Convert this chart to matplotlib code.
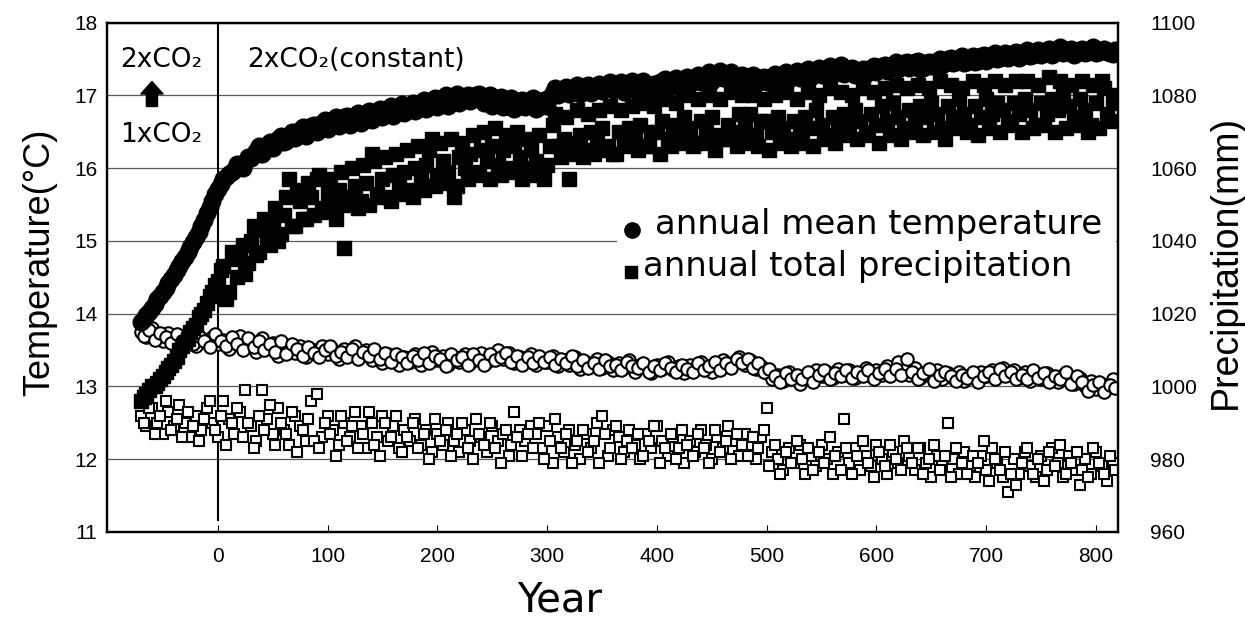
import numpy as np
import matplotlib.pyplot as plt
from matplotlib.patches import Rectangle

# model years: one value every 2.5 years, stored as two interleaved sets
years_a = np.arange(-70, 820, 5)      # -70, -65, ..., 815
years_b = years_a + 2.5               # -67.5, ..., 817.5

# annual mean temperature, 1xCO2 -> 2xCO2 run (degC)
temp_2x_a = [
    13.88, 13.98, 14.08, 14.20, 14.30, 14.42, 14.53, 14.66, 14.78, 14.92,
    15.05, 15.20, 15.38, 15.55, 15.72, 15.85, 15.92, 15.98, 16.02, 16.08,
    16.14, 16.24, 16.20, 16.32, 16.28, 16.40, 16.36, 16.46, 16.42, 16.52,
    16.44, 16.58, 16.50, 16.62, 16.54, 16.66, 16.58, 16.70, 16.60, 16.72,
    16.62, 16.74, 16.66, 16.78, 16.70, 16.82, 16.72, 16.84, 16.76, 16.86,
    16.78, 16.90, 16.82, 16.92, 16.84, 16.96, 16.86, 16.98, 16.90, 16.96,
    16.92, 17.00, 16.94, 16.98, 16.86, 16.96, 16.84, 16.94, 16.82, 16.92,
    16.84, 16.94, 16.82, 16.92, 16.86, 17.04, 17.00, 17.08, 17.02, 17.10,
    17.02, 17.10, 17.04, 17.12, 17.06, 17.14, 17.08, 17.16, 17.05, 17.13,
    17.08, 17.16, 17.10, 17.04, 17.14, 17.18, 17.10, 17.20, 17.12, 17.22,
    17.16, 17.24, 17.18, 17.26, 17.20, 17.30, 17.24, 17.30, 17.20, 17.26,
    17.18, 17.26, 17.16, 17.24, 17.18, 17.26, 17.20, 17.28, 17.22, 17.30,
    17.24, 17.32, 17.26, 17.34, 17.28, 17.36, 17.30, 17.38, 17.30, 17.36,
    17.28, 17.34, 17.30, 17.38, 17.32, 17.40, 17.34, 17.42, 17.36, 17.44,
    17.38, 17.46, 17.36, 17.44, 17.40, 17.48, 17.42, 17.50, 17.44, 17.50,
    17.44, 17.52, 17.46, 17.54, 17.48, 17.56, 17.50, 17.56, 17.52, 17.58,
    17.52, 17.60, 17.54, 17.60, 17.56, 17.62, 17.56, 17.64, 17.58, 17.62,
    17.56, 17.62, 17.58, 17.64, 17.58, 17.62, 17.60, 17.57,
]
temp_2x_b = [
    13.93, 14.03, 14.14, 14.25, 14.36, 14.48, 14.60, 14.72, 14.85, 14.98,
    15.12, 15.29, 15.46, 15.64, 15.78, 15.88, 15.95, 16.06, 16.00, 16.16,
    16.18, 16.30, 16.24, 16.36, 16.32, 16.44, 16.38, 16.50, 16.46, 16.56,
    16.52, 16.60, 16.56, 16.66, 16.58, 16.70, 16.62, 16.72, 16.64, 16.76,
    16.68, 16.78, 16.70, 16.82, 16.74, 16.86, 16.78, 16.88, 16.80, 16.90,
    16.84, 16.94, 16.86, 16.96, 16.88, 17.00, 16.90, 17.02, 16.94, 17.00,
    16.96, 17.02, 16.90, 17.00, 16.88, 16.98, 16.86, 16.96, 16.84, 16.94,
    16.88, 16.96, 16.84, 16.94, 16.98, 17.10, 17.04, 17.12, 17.06, 17.14,
    17.06, 17.14, 17.08, 17.16, 17.10, 17.18, 17.10, 17.18, 17.12, 17.20,
    17.14, 17.20, 17.08, 17.16, 17.18, 17.22, 17.14, 17.24, 17.16, 17.26,
    17.22, 17.28, 17.24, 17.32, 17.26, 17.34, 17.28, 17.32, 17.22, 17.28,
    17.20, 17.28, 17.18, 17.26, 17.24, 17.30, 17.22, 17.32, 17.26, 17.34,
    17.26, 17.36, 17.30, 17.38, 17.32, 17.40, 17.34, 17.42, 17.32, 17.38,
    17.30, 17.36, 17.32, 17.40, 17.36, 17.42, 17.38, 17.46, 17.40, 17.46,
    17.40, 17.48, 17.38, 17.46, 17.42, 17.50, 17.44, 17.52, 17.46, 17.54,
    17.46, 17.54, 17.48, 17.56, 17.50, 17.58, 17.52, 17.58, 17.54, 17.60,
    17.54, 17.62, 17.56, 17.62, 17.58, 17.64, 17.60, 17.66, 17.60, 17.64,
    17.58, 17.64, 17.60, 17.66, 17.60, 17.64, 17.58, 17.62,
]

# annual total precipitation, 1xCO2 -> 2xCO2 run (mm)
precip_2x_a = [
    996, 998, 1000, 1001, 1003, 1005, 1007, 1010, 1012, 1015,
    1017, 1020, 1023, 1026, 1029, 1033, 1026, 1035, 1037, 1031,
    1040, 1036, 1043, 1041, 1045, 1040, 1047, 1057, 1044, 1051,
    1046, 1052, 1057, 1049, 1053, 1050, 1054, 1038, 1052, 1055,
    1051, 1056, 1064, 1053, 1057, 1052, 1058, 1055, 1059, 1054,
    1060, 1057, 1061, 1068, 1058, 1062, 1059, 1052, 1063, 1060,
    1064, 1059, 1065, 1062, 1066, 1061, 1065, 1060, 1066, 1063,
    1060, 1065, 1062, 1058, 1061, 1072, 1066, 1068, 1057, 1067,
    1069, 1065, 1070, 1067, 1071, 1066, 1064, 1070, 1067, 1071,
    1068, 1072, 1066, 1070, 1070, 1073, 1068, 1072, 1070, 1074,
    1071, 1067, 1073, 1070, 1074, 1069, 1068, 1072, 1070, 1075,
    1071, 1075, 1069, 1073, 1073, 1070, 1074, 1071, 1068, 1073,
    1070, 1074, 1071, 1076, 1072, 1069, 1074, 1071, 1075, 1072,
    1076, 1073, 1070, 1075, 1072, 1077, 1073, 1078, 1074, 1071,
    1076, 1073, 1077, 1074, 1078, 1075, 1071, 1077, 1074, 1079,
    1075, 1072, 1077, 1074, 1079, 1075, 1078, 1076, 1073, 1078,
    1075, 1079, 1076, 1072, 1078, 1075, 1079, 1076, 1080, 1077,
    1074, 1079, 1076, 1072, 1078, 1084, 1075, 1078,
]
precip_2x_b = [
    997, 999, 1000, 1002, 1004, 1006, 1008, 1011, 1013, 1016,
    1019, 1021, 1025, 1028, 1032, 1024, 1037, 1030, 1039, 1034,
    1044, 1037, 1046, 1039, 1049, 1042, 1052, 1044, 1054, 1046,
    1056, 1047, 1058, 1048, 1057, 1046, 1059, 1050, 1060, 1049,
    1061, 1050, 1062, 1052, 1063, 1051, 1064, 1053, 1065, 1052,
    1066, 1054, 1065, 1055, 1067, 1056, 1068, 1055, 1067, 1057,
    1069, 1058, 1070, 1057, 1071, 1058, 1069, 1059, 1070, 1057,
    1068, 1058, 1069, 1057, 1066, 1075, 1063, 1074, 1064, 1076,
    1063, 1075, 1064, 1076, 1065, 1077, 1064, 1076, 1066, 1077,
    1065, 1078, 1066, 1077, 1064, 1079, 1066, 1078, 1067, 1080,
    1066, 1079, 1067, 1080, 1065, 1079, 1068, 1081, 1066, 1080,
    1067, 1080, 1066, 1079, 1065, 1080, 1067, 1081, 1066, 1079,
    1067, 1081, 1066, 1080, 1068, 1082, 1067, 1081, 1069, 1080,
    1068, 1082, 1069, 1081, 1067, 1082, 1069, 1083, 1068, 1082,
    1070, 1083, 1069, 1082, 1070, 1084, 1068, 1083, 1071, 1082,
    1070, 1084, 1069, 1083, 1071, 1084, 1070, 1083, 1072, 1084,
    1070, 1084, 1071, 1083, 1072, 1085, 1070, 1084, 1071, 1083,
    1072, 1084, 1070, 1083, 1071, 1082, 1073, 1080,
]

# annual mean temperature, 1xCO2 control run (degC)
temp_ctl_a = [
    13.75, 13.68, 13.80, 13.72, 13.62, 13.74, 13.66, 13.58, 13.70, 13.64,
    13.56, 13.66, 13.60, 13.68, 13.58, 13.64, 13.52, 13.62, 13.70, 13.56,
    13.60, 13.48, 13.66, 13.54, 13.60, 13.42, 13.56, 13.50, 13.46, 13.56,
    13.40, 13.52, 13.46, 13.55, 13.44, 13.50, 13.38, 13.52, 13.46, 13.56,
    13.42, 13.50, 13.36, 13.46, 13.32, 13.44, 13.38, 13.30, 13.40, 13.34,
    13.44, 13.30, 13.38, 13.48, 13.36, 13.42, 13.30, 13.40, 13.34, 13.44,
    13.32, 13.40, 13.46, 13.34, 13.42, 13.50, 13.38, 13.46, 13.32, 13.40,
    13.36, 13.44, 13.30, 13.38, 13.34, 13.42, 13.28, 13.36, 13.30, 13.40,
    13.24, 13.34, 13.28, 13.38, 13.26, 13.34, 13.22, 13.32, 13.26, 13.36,
    13.20, 13.30, 13.26, 13.18, 13.30, 13.24, 13.34, 13.22, 13.28, 13.18,
    13.30, 13.24, 13.34, 13.26, 13.20, 13.30, 13.36, 13.28, 13.34, 13.40,
    13.30, 13.36, 13.24, 13.28, 13.18, 13.10, 13.16, 13.08, 13.20, 13.12,
    13.04, 13.16, 13.10, 13.22, 13.14, 13.20, 13.12, 13.24, 13.16, 13.22,
    13.12, 13.18, 13.26, 13.14, 13.22, 13.16, 13.28, 13.20, 13.34, 13.22,
    13.16, 13.26, 13.12, 13.20, 13.14, 13.22, 13.10, 13.18, 13.12, 13.20,
    13.08, 13.16, 13.12, 13.20, 13.14, 13.22, 13.18, 13.26, 13.16, 13.22,
    13.12, 13.20, 13.08, 13.16, 13.10, 13.18, 13.12, 13.06, 13.16, 13.10,
    13.04, 13.12, 13.00, 13.08, 12.96, 13.04, 12.98, 13.10,
]
temp_ctl_b = [
    13.70, 13.78, 13.64, 13.74, 13.68, 13.60, 13.72, 13.62, 13.66, 13.58,
    13.70, 13.62, 13.54, 13.72, 13.62, 13.56, 13.68, 13.58, 13.50, 13.66,
    13.54, 13.62, 13.50, 13.58, 13.48, 13.62, 13.44, 13.58, 13.52, 13.42,
    13.54, 13.46, 13.40, 13.50, 13.56, 13.42, 13.48, 13.40, 13.52, 13.38,
    13.48, 13.42, 13.52, 13.38, 13.46, 13.34, 13.44, 13.40, 13.32, 13.42,
    13.36, 13.46, 13.32, 13.42, 13.38, 13.28, 13.44, 13.36, 13.40, 13.30,
    13.44, 13.36, 13.30, 13.44, 13.36, 13.40, 13.46, 13.34, 13.42, 13.30,
    13.40, 13.32, 13.42, 13.34, 13.40, 13.30, 13.38, 13.32, 13.42, 13.28,
    13.36, 13.26, 13.32, 13.24, 13.36, 13.28, 13.30, 13.22, 13.34, 13.28,
    13.26, 13.32, 13.20, 13.28, 13.22, 13.32, 13.26, 13.20, 13.30, 13.24,
    13.20, 13.32, 13.22, 13.28, 13.34, 13.22, 13.32, 13.26, 13.38, 13.32,
    13.38, 13.26, 13.32, 13.20, 13.24, 13.14, 13.06, 13.18, 13.10, 13.16,
    13.10, 13.20, 13.06, 13.16, 13.22, 13.10, 13.18, 13.14, 13.22, 13.12,
    13.20, 13.14, 13.22, 13.10, 13.18, 13.24, 13.14, 13.24, 13.16, 13.38,
    13.20, 13.10, 13.18, 13.24, 13.08, 13.16, 13.20, 13.14, 13.08, 13.16,
    13.12, 13.20, 13.06, 13.14, 13.20, 13.10, 13.24, 13.14, 13.20, 13.10,
    13.16, 13.10, 13.22, 13.12, 13.18, 13.06, 13.14, 13.10, 13.20, 13.04,
    13.14, 13.06, 12.94, 13.02, 13.06, 12.92, 13.02, 12.98,
]

# annual total precipitation, 1xCO2 control run (mm)
precip_ctl_a = [
    992, 989, 994, 990, 987, 993, 989, 995, 990, 986,
    992, 988, 994, 990, 986, 996, 991, 987, 993, 999,
    989, 985, 999, 991, 987, 994, 988, 984, 992, 989,
    985, 996, 998, 986, 992, 988, 984, 990, 986, 993,
    989, 983, 990, 986, 992, 985, 989, 983, 988, 985,
    991, 984, 988, 982, 987, 984, 990, 985, 982, 988,
    985, 991, 986, 982, 989, 985, 987, 981, 993, 988,
    985, 989, 987, 983, 989, 979, 986, 982, 988, 984,
    980, 987, 983, 990, 992, 981, 988, 986, 982, 988,
    984, 980, 987, 983, 989, 985, 981, 986, 983, 979,
    985, 982, 988, 984, 980, 986, 983, 989, 985, 981,
    987, 984, 980, 986, 994, 982, 980, 977, 983, 979,
    984, 976, 981, 978, 984, 980, 976, 982, 991, 979,
    983, 977, 981, 978, 984, 980, 976, 982, 979, 985,
    981, 977, 983, 979, 975, 981, 978, 990, 980, 976,
    982, 978, 975, 981, 977, 983, 979, 975, 971, 980,
    976, 982, 978, 975, 981, 977, 983, 979, 975, 981,
    977, 973, 980, 976, 982, 978, 974, 979,
]
precip_ctl_b = [
    990, 994, 987, 992, 996, 988, 991, 986, 993, 989,
    985, 991, 996, 988, 992, 984, 990, 994, 986, 990,
    983, 992, 988, 995, 984, 990, 987, 993, 982, 988,
    991, 985, 983, 990, 987, 981, 992, 985, 989, 983,
    987, 993, 984, 981, 990, 986, 992, 982, 986, 990,
    983, 987, 980, 991, 985, 988, 981, 987, 990, 983,
    980, 987, 984, 990, 983, 979, 988, 984, 986, 981,
    987, 983, 990, 980, 985, 991, 983, 987, 979, 985,
    988, 982, 985, 979, 987, 983, 989, 980, 985, 983,
    987, 981, 985, 989, 979, 983, 987, 980, 988, 984,
    981, 987, 983, 979, 988, 982, 985, 980, 987, 984,
    981, 986, 983, 988, 978, 984, 976, 982, 979, 985,
    980, 983, 977, 982, 979, 986, 981, 977, 983, 976,
    981, 985, 979, 975, 982, 978, 984, 980, 977, 983,
    979, 983, 976, 980, 984, 977, 981, 975, 983, 979,
    976, 981, 979, 985, 974, 980, 977, 982, 976, 973,
    979, 983, 976, 980, 974, 982, 978, 984, 976, 979,
    982, 977, 975, 983, 979, 976, 981, 977,
]

xticks = list(range(0, 801, 100))
temp_ticks = list(range(11, 19))
precip_ticks = list(range(960, 1101, 20))

years = np.concatenate([years_a, years_b])
temp_2x = np.concatenate([temp_2x_a, temp_2x_b])
precip_2x = np.concatenate([precip_2x_a, precip_2x_b])
temp_ctl = np.concatenate([temp_ctl_a, temp_ctl_b])
precip_ctl = np.concatenate([precip_ctl_a, precip_ctl_b])

plt.rcParams['font.family'] = ['Liberation Sans', 'DejaVu Sans']
gothic = ['DejaVu Sans']

fig = plt.figure(figsize=(12.45, 6.28), dpi=100)
ax = fig.add_axes([0.0859, 0.1529, 0.8121, 0.811])
ax2 = ax.twinx()

# temperature on the left axis
ax.plot(years, temp_ctl, 'o', ms=9, mfc='white', mec='black', mew=1.5, zorder=2)
ax.plot(years, temp_2x, 'o', ms=12, color='black', zorder=3)
# precipitation on the right axis
ax2.plot(years, precip_ctl, 's', ms=7.5, mfc='white', mec='black', mew=1.5, zorder=2)
ax2.plot(years, precip_2x, 's', ms=10, color='black', zorder=3)

ax.set_xlim(-101, 820)
ax.set_ylim(11, 18)
ax2.set_ylim(960, 1100)
ax.set_xticks(xticks)
ax.set_yticks(temp_ticks)
ax2.set_yticks(precip_ticks)
ax.tick_params(axis='x', direction='in', length=5, labelsize=15, pad=11)
ax.tick_params(axis='y', length=0, labelsize=15, pad=7)
ax2.tick_params(axis='y', length=0, labelsize=15, pad=23)
for a in (ax, ax2):
    for s in a.spines.values():
        s.set_linewidth(1.6)

ax.set_axisbelow(True)
ax.grid(axis='y', color='0.35', lw=0.9)
ax.axvline(0, ymin=0.023, ymax=1, color='black', lw=1.5, zorder=1)

# white box behind the legend text
ax.add_patch(Rectangle((0.504, 0.475), 0.494, 0.183, transform=ax.transAxes,
                       fc='white', ec='none', zorder=1))
ax.plot([0.519], [0.593], 'o', ms=11, color='black', transform=ax.transAxes, clip_on=False)
ax.plot([0.518], [0.510], 's', ms=9, color='black', transform=ax.transAxes, clip_on=False)
ax.text(0.542, 0.603, 'annual mean temperature', transform=ax.transAxes,
        fontsize=24.5, va='center', ha='left', family=gothic)
ax.text(0.530, 0.522, 'annual total precipitation', transform=ax.transAxes,
        fontsize=24.5, va='center', ha='left', family=gothic)

# CO2 annotations
ax.text(0.054, 0.927, '2xCO\u2082', transform=ax.transAxes, fontsize=19,
        ha='center', va='center', family=gothic)
ax.text(0.054, 0.780, '1xCO\u2082', transform=ax.transAxes, fontsize=19,
        ha='center', va='center', family=gothic)
ax.annotate('', xy=(0.0445, 0.890), xytext=(0.0445, 0.830), xycoords='axes fraction',
            arrowprops=dict(arrowstyle='simple,head_width=1.6,head_length=0.9,tail_width=0.8',
                            color='black'))
ax.text(0.139, 0.927, '2xCO\u2082(constant)', transform=ax.transAxes,
        fontsize=19, ha='left', va='center', family=gothic)

fig.text(560 / 1245, 1 - 600 / 628, 'Year', fontsize=29, ha='center', va='center',
         family=gothic)
fig.text(40 / 1245, 1 - 262 / 628, 'Temperature(\u00b0C)', fontsize=26, rotation=90,
         ha='center', va='center')
fig.text(1226 / 1245, 1 - 262 / 628, 'Precipitation(mm)', fontsize=27, rotation=90,
         ha='center', va='center')

fig.savefig('out.png', dpi=100)
